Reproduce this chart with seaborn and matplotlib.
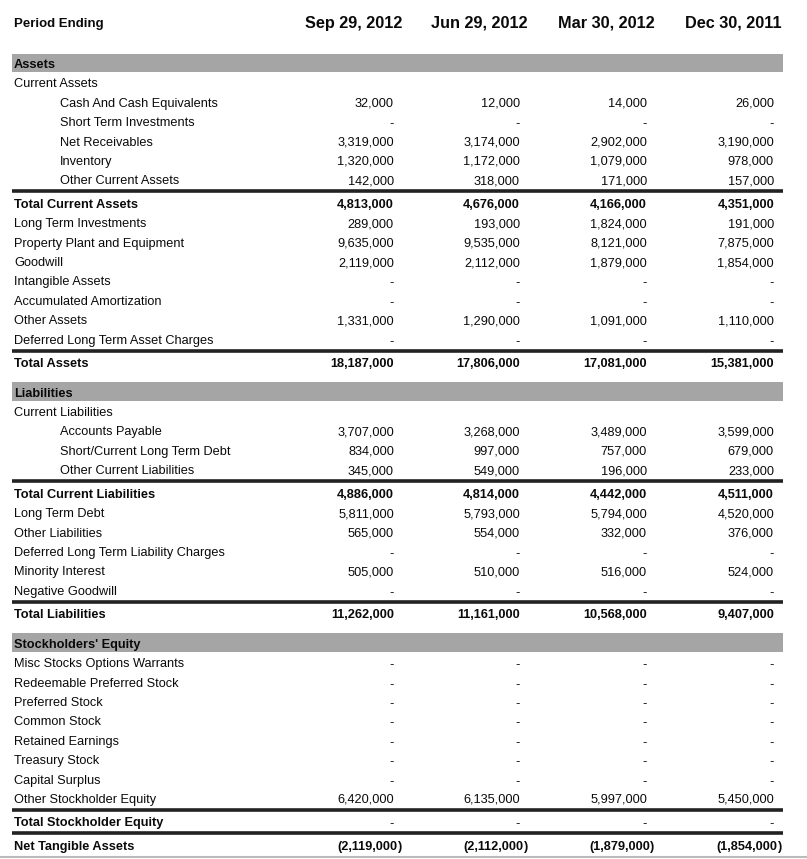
import matplotlib
matplotlib.use("Agg")
import matplotlib.pyplot as plt
import seaborn as sns

sns.set_style("white")
plt.rcParams['font.family'] = ['Liberation Sans', 'DejaVu Sans']

# ---------------- data ----------------
periods = ["Sep 29, 2012", "Jun 29, 2012", "Mar 30, 2012", "Dec 30, 2011"]

# row kinds: band, sub, item (indented), plain, total
row_labels = [
    "Assets", "Current Assets",
    "Cash And Cash Equivalents", "Short Term Investments", "Net Receivables",
    "Inventory", "Other Current Assets",
    "Total Current Assets", "Long Term Investments", "Property Plant and Equipment",
    "Goodwill", "Intangible Assets", "Accumulated Amortization", "Other Assets",
    "Deferred Long Term Asset Charges",
    "Total Assets",
    "Liabilities", "Current Liabilities",
    "Accounts Payable", "Short/Current Long Term Debt", "Other Current Liabilities",
    "Total Current Liabilities", "Long Term Debt", "Other Liabilities",
    "Deferred Long Term Liability Charges", "Minority Interest", "Negative Goodwill",
    "Total Liabilities",
    "Stockholders' Equity",
    "Misc Stocks Options Warrants", "Redeemable Preferred Stock", "Preferred Stock",
    "Common Stock", "Retained Earnings", "Treasury Stock", "Capital Surplus",
    "Other Stockholder Equity",
    "Total Stockholder Equity",
    "Net Tangible Assets",
]
row_kinds = [
    "band", "sub",
    "item", "item", "item", "item", "item",
    "total", "plain", "plain", "plain", "plain", "plain", "plain", "plain",
    "total",
    "band", "sub",
    "item", "item", "item",
    "total", "plain", "plain", "plain", "plain", "plain",
    "total",
    "band",
    "plain", "plain", "plain", "plain", "plain", "plain", "plain", "plain",
    "totaldash",
    "total",
]
N = None
sep_2012 = [N, N, 32000, N, 3319000, 1320000, 142000, 4813000, 289000, 9635000,
            2119000, N, N, 1331000, N, 18187000, N, N, 3707000, 834000, 345000,
            4886000, 5811000, 565000, N, 505000, N, 11262000, N,
            N, N, N, N, N, N, N, 6420000, N, -2119000]
jun_2012 = [N, N, 12000, N, 3174000, 1172000, 318000, 4676000, 193000, 9535000,
            2112000, N, N, 1290000, N, 17806000, N, N, 3268000, 997000, 549000,
            4814000, 5793000, 554000, N, 510000, N, 11161000, N,
            N, N, N, N, N, N, N, 6135000, N, -2112000]
mar_2012 = [N, N, 14000, N, 2902000, 1079000, 171000, 4166000, 1824000, 8121000,
            1879000, N, N, 1091000, N, 17081000, N, N, 3489000, 757000, 196000,
            4442000, 5794000, 332000, N, 516000, N, 10568000, N,
            N, N, N, N, N, N, N, 5997000, N, -1879000]
dec_2011 = [N, N, 26000, N, 3190000, 978000, 157000, 4351000, 191000, 7875000,
            1854000, N, N, 1110000, N, 15381000, N, N, 3599000, 679000, 233000,
            4511000, 4520000, 376000, N, 524000, N, 9407000, N,
            N, N, N, N, N, N, N, 5450000, N, -1854000]
columns = [sep_2012, jun_2012, mar_2012, dec_2011]

# ---------------- layout ----------------
W, H = 807, 859
fig = plt.figure(figsize=(W / 100, H / 100), dpi=100)
ax = fig.add_axes([0, 0, 1, 1])
ax.set_xlim(0, W)
ax.set_ylim(H, 0)
ax.axis("off")

LEFT, RIGHT = 12, 783
col_right = [394, 520, 647, 774]
FS = 9.2
FS_HEAD = 11.7
STEP = 19.4
TXT = "#0a0a0a"

# header
ax.text(14, 23, "Period Ending", fontsize=9.5, fontweight="bold", color=TXT,
        ha="left", va="center_baseline")
for x, p in zip(col_right, periods):
    ax.text(x + 8, 22, p, fontsize=FS_HEAD, fontweight="bold", color=TXT,
            ha="right", va="center_baseline")


def fmt(v):
    return "-" if v is None else f"{abs(v):,}"


y = 34
prev = None
for i, (lab, kind) in enumerate(zip(row_labels, row_kinds)):
    if kind == "band":
        y += 29.5
    elif kind in ("total", "totaldash") and prev is not None and prev not in ("band",):
        line_y = y + 11.5
        ax.plot([LEFT, RIGHT], [line_y, line_y], color="#222222", lw=2.6,
                solid_capstyle="butt")
        y += 23.5
    else:
        y += STEP if prev is not None else 0
    if kind == "band":
        ax.fill_between([LEFT, RIGHT], y - 10, y + 8.7, color="#A5A5A5", lw=0)
        ax.text(14, y, lab, fontsize=FS, fontweight="bold", color=TXT,
                ha="left", va="center_baseline")
        prev = kind
        continue
    bold = kind in ("total", "totaldash")
    xl = 60 if kind == "item" else 14
    ax.text(xl, y, lab, fontsize=FS, fontweight="bold" if bold else "normal",
            color=TXT, ha="left", va="center_baseline")
    if kind != "sub":
        for cx, col in zip(col_right, columns):
            v = col[i]
            vb = kind == "total" and v is not None
            if v is not None and v < 0:
                ax.text(cx + 3, y, "(" + fmt(v), fontsize=FS, fontweight="bold",
                        color=TXT, ha="right", va="center_baseline")
                ax.text(cx + 3.5, y, ")", fontsize=FS, fontweight="bold",
                        color=TXT, ha="left", va="center_baseline")
            else:
                ax.text(cx, y + (1 if v is None else 0), fmt(v), fontsize=FS,
                        fontweight="bold" if vb else "normal",
                        color=TXT, ha="right", va="center_baseline")
    prev = kind

# thin bottom rule
ax.plot([0, W], [857, 857], color="#BBBBBB", lw=1.5)

fig.savefig("out.png", dpi=100, facecolor="white")
